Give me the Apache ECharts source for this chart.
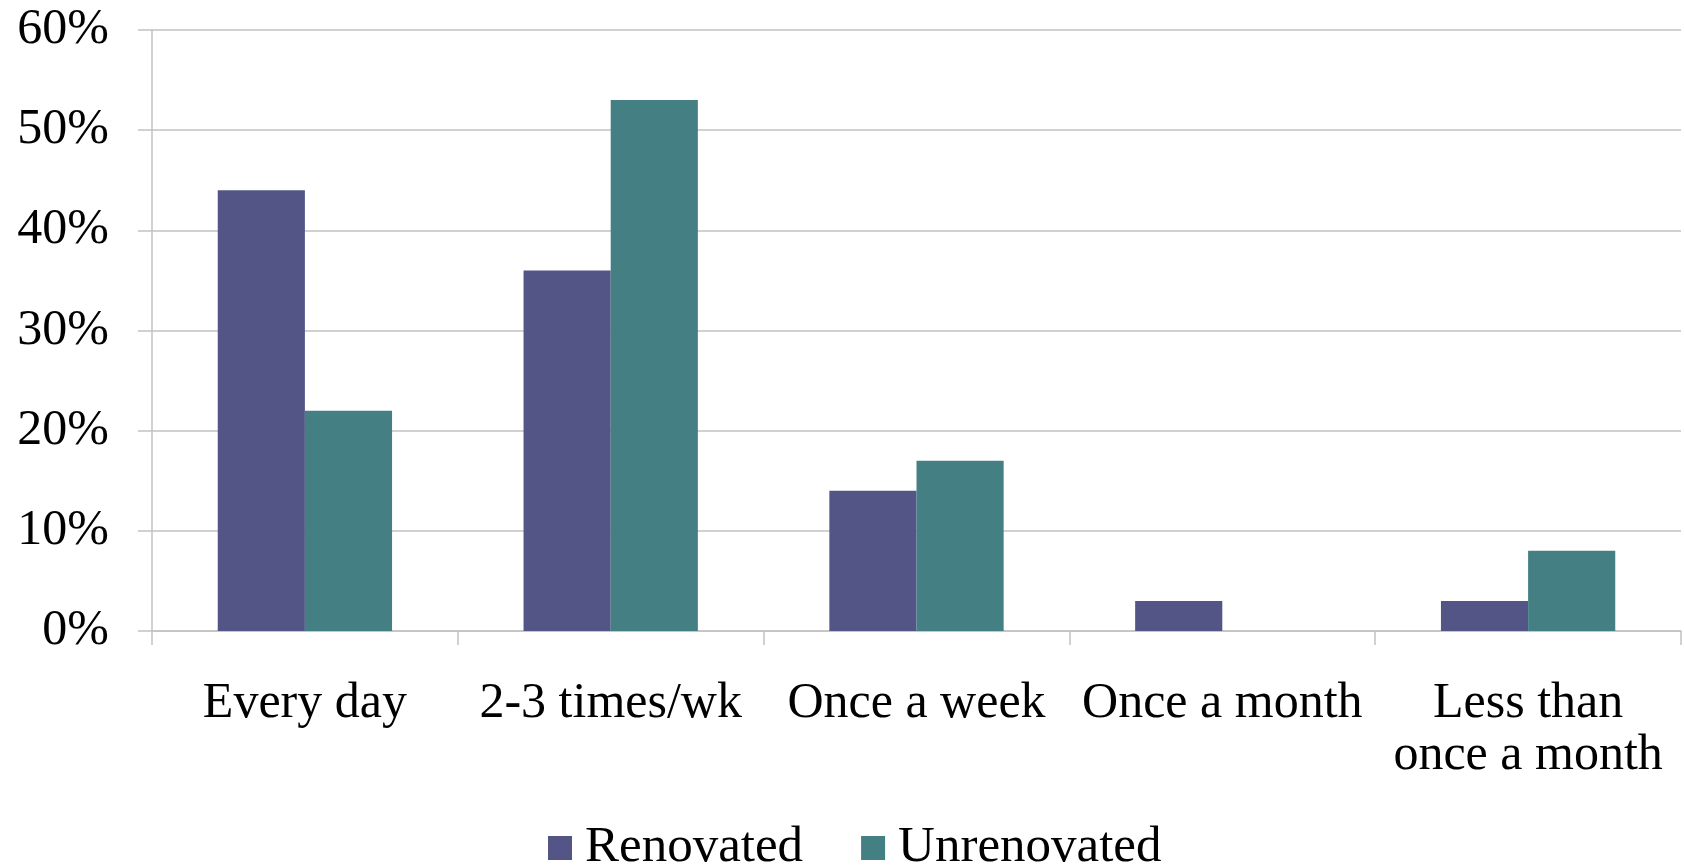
<!DOCTYPE html>
<html>
<head>
<meta charset="utf-8">
<style>
  html, body { margin: 0; padding: 0; background: #ffffff; }
  #chart { width: 1684px; height: 865px; }
</style>
<script src="https://cdn.jsdelivr.net/npm/echarts@6/dist/echarts.min.js"></script>
</head>
<body>
<div id="chart"></div>
<script>
// Frequency categories (x axis)
const categories = ['Every day', '2-3 times/wk', 'Once a week', 'Once a month', 'Less than\nonce a month'];
// Share of respondents, in percent
const renovated = [44, 36, 14, 3, 3];
const unrenovated = [22, 53, 17, 0, 8];
const seriesNames = ['Renovated', 'Unrenovated'];
// Value axis range
const yMin = 0, yMax = 60, yStep = 10;

const serif = '"Liberation Serif", "DejaVu Serif", serif';
const gridColor = '#c2c2c2';

const chart = echarts.init(document.getElementById('chart'), null, { renderer: 'canvas' });
chart.setOption({
  backgroundColor: '#ffffff',
  animation: false,
  color: ['#535587', '#447f84'],
  grid: { left: 152, right: 3, top: 30, bottom: 234, containLabel: false },
  legend: {
    left: 543,
    top: 817,
    itemWidth: 24,
    itemHeight: 24,
    itemGap: 58,
    icon: 'rect',
    textStyle: { fontFamily: serif, fontSize: 51, lineHeight: 52, color: '#000', padding: [0, 0, 0, 8] },
    data: seriesNames
  },
  xAxis: {
    type: 'category',
    data: categories,
    axisLine: { show: true, lineStyle: { color: gridColor, width: 1.5 } },
    axisTick: { show: true, length: 14, lineStyle: { color: gridColor, width: 1.5 } },
    axisLabel: {
      fontFamily: serif, fontSize: 50, color: '#000',
      lineHeight: 52, margin: 47, interval: 0
    },
    splitLine: { show: false }
  },
  yAxis: {
    type: 'value',
    min: yMin, max: yMax, interval: yStep,
    axisLine: { show: true, lineStyle: { color: gridColor, width: 1.5 } },
    axisTick: { show: true, length: 14, lineStyle: { color: gridColor, width: 1.5 } },
    axisLabel: {
      fontFamily: serif, fontSize: 50, color: '#000', margin: 43,
      formatter: '{value}%'
    },
    splitLine: { show: true, lineStyle: { color: gridColor, width: 1.5 } }
  },
  series: [
    {
      name: seriesNames[0], type: 'bar', data: renovated,
      barGap: '0%', barCategoryGap: '43%'
    },
    {
      name: seriesNames[1], type: 'bar', data: unrenovated,
      barGap: '0%', barCategoryGap: '43%'
    }
  ]
});
</script>
</body>
</html>
